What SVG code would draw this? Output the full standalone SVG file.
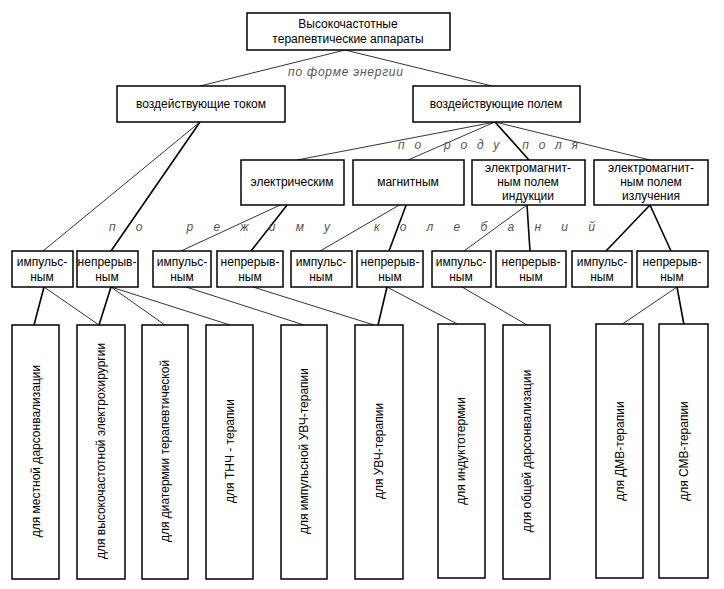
<svg xmlns="http://www.w3.org/2000/svg" width="724" height="589" viewBox="0 0 724 589">
<style>
rect{fill:#fff;stroke:#000;stroke-width:1.5}
text{font-family:"Liberation Sans",Arial,sans-serif;font-size:12px;fill:#000;text-anchor:middle}
.lbl{font-style:italic;fill:#555;text-anchor:start}
.t{stroke:#000;stroke-width:0.8;fill:none}
.k{stroke:#000;stroke-width:1.6;fill:none}
</style>
<rect x="0" y="0" width="724" height="589" style="stroke:none"/>
<g id="connectors">
<path class="t" d="M345 50L200 86M345 50L492 86"/>
<path class="t" d="M495 122L297 160M495 122L408 160M495 122L650 160"/>
<path class="k" d="M495 122L529 160"/>
<path class="t" d="M200 122L43 251M291 200L181 251M408 200L320 251M527 205L464 251"/>
<path class="k" d="M200 122L111 251M291 200L251 251M408 200L389 251M527 205L530 251M650 205L606 251M650 205L671 251"/>
<path class="k" d="M44 287L34 325M111 287L99 325M387 287L378 325M677 287L684 325"/>
<path class="t" d="M44 287L99 325M111 287L165 325M111 287L230 325M186 287L304 325M253 287L374 325M387 287L459 325M462 287L527 325M677 287L621 325"/>
</g>
<text class="lbl" x="288" y="76" textLength="115">по форме энергии</text>
<text class="lbl" x="398" y="149" textLength="180" lengthAdjust="spacing">по  роду  поля</text>
<text class="lbl" x="109" y="231" textLength="486" lengthAdjust="spacing">по   режиму   колебаний</text>
<g id="n0"><rect x="247" y="13" width="203" height="37"/><text x="348" y="28">Высокочастотные</text><text x="348" y="43">терапевтические аппараты</text></g>
<g id="n1"><rect x="117" y="86" width="168" height="36"/><text x="201" y="108">воздействующие током</text></g>
<g id="n2"><rect x="413" y="86" width="167" height="36"/><text x="496" y="108">воздействующие полем</text></g>
<g id="n3"><rect x="241" y="160" width="103" height="45"/><text x="292" y="186">электрическим</text></g>
<g id="n4"><rect x="353" y="160" width="111" height="45"/><text x="408" y="186">магнитным</text></g>
<g id="n5"><rect x="472" y="160" width="113" height="45"/><text x="528" y="172">электромагнит-</text><text x="528" y="186">ным полем</text><text x="528" y="200">индукции</text></g>
<g id="n6"><rect x="594" y="160" width="114" height="45"/><text x="651" y="172">электромагнит-</text><text x="651" y="186">ным полем</text><text x="651" y="200">излучения</text></g>
<g id="m1"><rect x="12" y="251" width="61" height="36"/><text x="42" y="266">импульс-</text><text x="42" y="281">ным</text></g>
<g id="m2"><rect x="77" y="251" width="61" height="36"/><text x="107" y="266">непрерыв-</text><text x="107" y="281">ным</text></g>
<g id="m3"><rect x="153" y="251" width="58" height="36"/><text x="182" y="266">импульс-</text><text x="182" y="281">ным</text></g>
<g id="m4"><rect x="217" y="251" width="66" height="36"/><text x="250" y="266">непрерыв-</text><text x="250" y="281">ным</text></g>
<g id="m5"><rect x="291" y="251" width="61" height="36"/><text x="321" y="266">импульс-</text><text x="321" y="281">ным</text></g>
<g id="m6"><rect x="357" y="251" width="66" height="36"/><text x="390" y="266">непрерыв-</text><text x="390" y="281">ным</text></g>
<g id="m7"><rect x="432" y="251" width="59" height="36"/><text x="461" y="266">импульс-</text><text x="461" y="281">ным</text></g>
<g id="m8"><rect x="496" y="251" width="70" height="36"/><text x="531" y="266">непрерыв-</text><text x="531" y="281">ным</text></g>
<g id="m9"><rect x="572" y="251" width="60" height="36"/><text x="602" y="266">импульс-</text><text x="602" y="281">ным</text></g>
<g id="m10"><rect x="637" y="251" width="71" height="36"/><text x="672" y="266">непрерыв-</text><text x="672" y="281">ным</text></g>
<g id="b1"><rect x="12" y="325" width="47" height="254"/><text transform="translate(40,451) rotate(-90)">для местной дарсонвализации</text></g>
<g id="b2"><rect x="77" y="325" width="48" height="254"/><text transform="translate(105,451) rotate(-90)">для высокочастотной электрохирургии</text></g>
<g id="b3"><rect x="142" y="325" width="46" height="254"/><text transform="translate(169,451) rotate(-90)">для диатермии терапевтической</text></g>
<g id="b4"><rect x="206" y="325" width="47" height="254"/><text transform="translate(234,451) rotate(-90)">для ТНЧ - терапии</text></g>
<g id="b5"><rect x="281" y="325" width="46" height="254"/><text transform="translate(308,451) rotate(-90)">для импульсной УВЧ-терапии</text></g>
<g id="b6"><rect x="355" y="325" width="48" height="254"/><text transform="translate(383,451) rotate(-90)">для УВЧ-терапии</text></g>
<g id="b7"><rect x="438" y="324" width="47" height="254"/><text transform="translate(465,451) rotate(-90)">для индуктотермии</text></g>
<g id="b8"><rect x="503" y="325" width="47" height="254"/><text transform="translate(531,451) rotate(-90)">для общей дарсонвализации</text></g>
<g id="b9"><rect x="596" y="324" width="47" height="254"/><text transform="translate(624,451) rotate(-90)">для ДМВ-терапии</text></g>
<g id="b10"><rect x="659" y="324" width="49" height="254"/><text transform="translate(688,451) rotate(-90)">для СМВ-терапии</text></g>
</svg>
